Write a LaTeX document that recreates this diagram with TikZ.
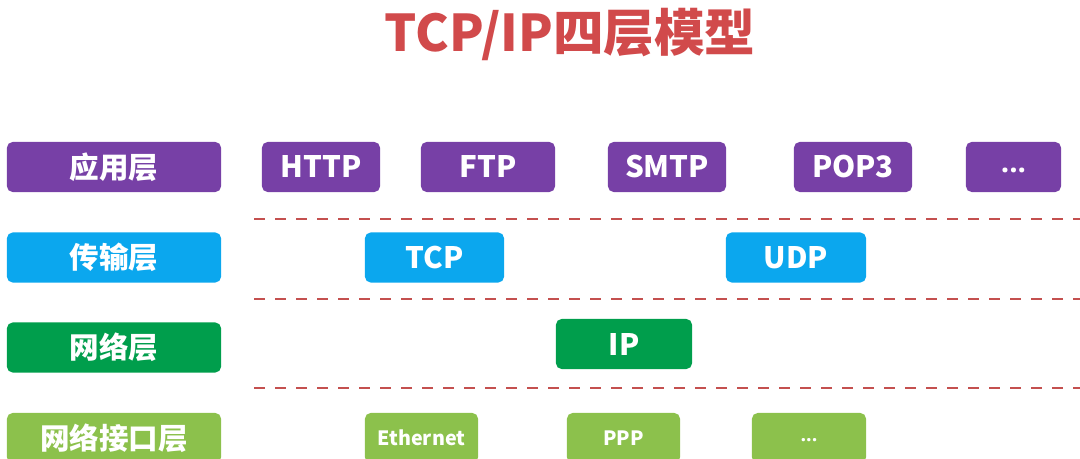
\documentclass[tikz,border=0pt]{standalone}
\usepackage{fontspec}
\setmainfont{Noto Sans CJK SC}
\newfontfamily\dotsfont{Open Sans}
\definecolor{appcol}{HTML}{7740A6}
\definecolor{transcol}{HTML}{0BA7EE}
\definecolor{netcol}{HTML}{009E4C}
\definecolor{linkcol}{HTML}{8CC14C}
\definecolor{sepcol}{HTML}{C4504F}
\definecolor{titlecol}{HTML}{D14A4B}
\tikzset{
  layerbox/.style={rounded corners=4pt, text=white, inner sep=0pt,
    minimum height=1.25cm, font=\bfseries\fontsize{21}{21}\selectfont},
  smallbox/.style={layerbox, font=\bfseries\fontsize{14}{14}\selectfont},
  sepline/.style={sepcol, line width=2pt, dash pattern=on 0.28cm off 0.245cm}
}
\begin{document}
\begin{tikzpicture}[x=0.025cm, y=-0.025cm]
\useasboundingbox (0, 0) rectangle (1080, 459);

\node[text=titlecol, font=\bfseries\fontsize{36}{36}\selectfont] (title) at (570, 34) {TCP/IP四层模型};

% layer names
\node[layerbox, fill=appcol, minimum width=5.35cm] (app) at (114, 167) {应用层};
\node[layerbox, fill=transcol, minimum width=5.35cm] (trans) at (114, 257.5) {传输层};
\node[layerbox, fill=netcol, minimum width=5.35cm] (net) at (114, 347.5) {网络层};
\node[layerbox, fill=linkcol, minimum width=5.35cm] (link) at (114, 438) {网络接口层};

% application layer
\node[layerbox, fill=appcol, minimum width=2.95cm] (http) at (321, 167) {HTTP};
\node[layerbox, fill=appcol, minimum width=3.35cm] (ftp) at (488, 167) {FTP};
\node[layerbox, fill=appcol, minimum width=2.95cm] (smtp) at (667, 167) {SMTP};
\node[layerbox, fill=appcol, minimum width=2.95cm] (pop) at (853, 167) {POP3};
\node[layerbox, fill=appcol, minimum width=2.375cm] (appmore) at (1013.5, 167) {\dotsfont\bfseries\strut...};

% transport layer
\node[layerbox, fill=transcol, minimum width=3.475cm] (tcp) at (434.5, 257.5) {TCP};
\node[layerbox, fill=transcol, minimum width=3.5cm] (udp) at (796, 257.5) {UDP};

% network layer
\node[layerbox, fill=netcol, minimum width=3.4cm] (ip) at (624, 344) {IP};

% network interface layer
\node[smallbox, fill=linkcol, minimum width=2.825cm] (eth) at (421.5, 438) {Ethernet};
\node[smallbox, fill=linkcol, minimum width=2.825cm] (ppp) at (623.5, 438) {PPP};
\node[smallbox, fill=linkcol, minimum width=2.85cm] (linkmore) at (809, 438) {\dotsfont\bfseries\strut...};

\foreach \y in {219, 299, 388}
  \draw[sepline] (254, \y) -- (1080, \y);
\end{tikzpicture}
\end{document}
